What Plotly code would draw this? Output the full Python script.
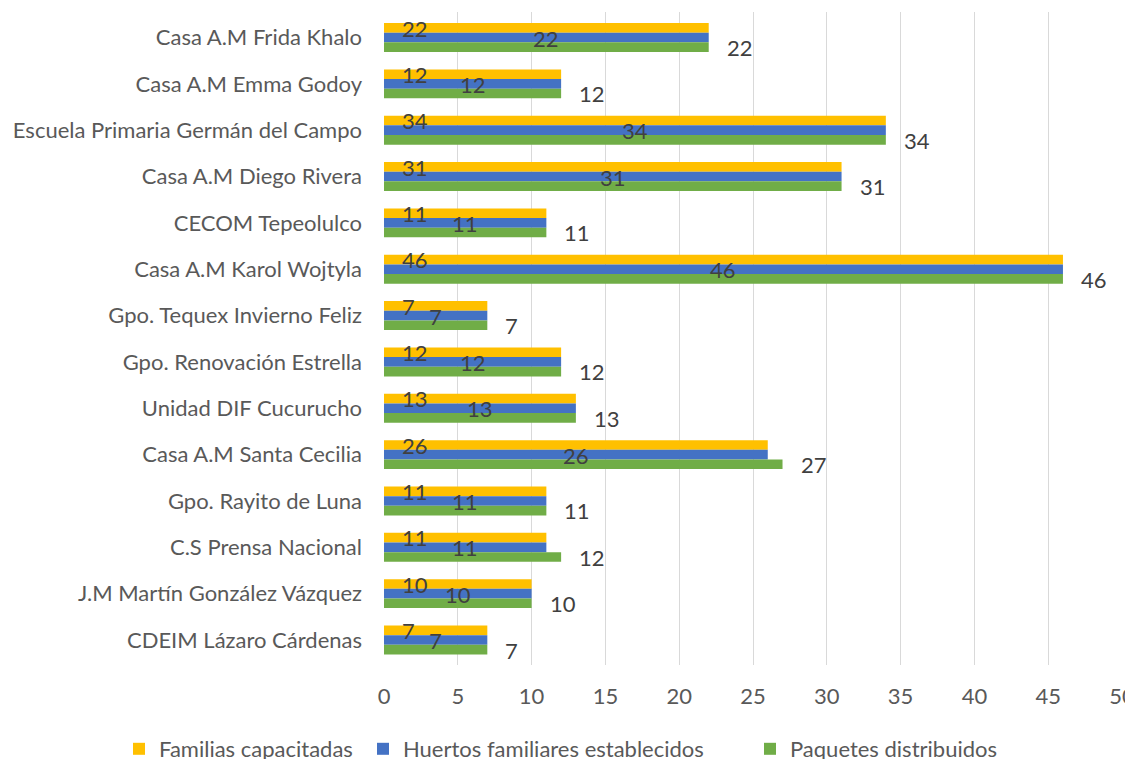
import plotly.graph_objects as go

categorias = [
    "Casa A.M Frida Khalo",
    "Casa A.M Emma Godoy",
    "Escuela Primaria Germán del Campo",
    "Casa A.M Diego Rivera",
    "CECOM Tepeolulco",
    "Casa A.M Karol Wojtyla",
    "Gpo. Tequex Invierno Feliz",
    "Gpo. Renovación Estrella",
    "Unidad DIF Cucurucho",
    "Casa A.M Santa Cecilia",
    "Gpo. Rayito de Luna",
    "C.S Prensa Nacional",
    "J.M Martín González Vázquez",
    "CDEIM Lázaro Cárdenas",
]

familias = [22, 12, 34, 31, 11, 46, 7, 12, 13, 26, 11, 11, 10, 7]
huertos = [22, 12, 34, 31, 11, 46, 7, 12, 13, 26, 11, 11, 10, 7]
paquetes = [22, 12, 34, 31, 11, 46, 7, 12, 13, 27, 11, 12, 10, 7]

series = [
    ("Familias capacitadas", familias, "#FFC000"),
    ("Huertos familiares establecidos", huertos, "#4472C4"),
    ("Paquetes distribuidos", paquetes, "#70AD47"),
]

FONT = "Lato"
SIZE = 22
fig = go.Figure()

# one legend per series so each entry can sit where Excel put it
legend_ids = ["legend", "legend2", "legend3"]
legend_x = [111, 355, 742]  # left edge of each entry, px in the figure

for (nombre, valores, color), lid in zip(series, legend_ids):
    fig.add_trace(go.Bar(
        y=categorias, x=valores, name=nombre, orientation="h",
        marker=dict(color=color, line=dict(width=0)),
        legend=lid,
    ))

# data labels, placed like the Excel original
lbl_font = dict(family=FONT, size=SIZE, color="#404040")
annotations = []
for cat, v in zip(categorias, familias):
    annotations.append(dict(x=0, y=cat, text=str(v), showarrow=False,
                            xanchor="left", xshift=16, yshift=9.5, font=lbl_font))
for cat, v in zip(categorias, huertos):
    annotations.append(dict(x=v / 2, y=cat, text=str(v), showarrow=False,
                            xanchor="center", yshift=-0.5, font=lbl_font))
for cat, v in zip(categorias, paquetes):
    annotations.append(dict(x=v, y=cat, text=str(v), showarrow=False,
                            xanchor="left", xshift=16, yshift=-10, font=lbl_font))

W, H = 1125, 751  # the page body has an 8px margin
legends = {}
for lid, lx in zip(legend_ids, legend_x):
    legends[lid] = dict(orientation="h", xref="container", yref="container",
                        x=lx / W, xanchor="left", y=10 / H, yanchor="middle",
                        bgcolor="rgba(0,0,0,0)",
                        font=dict(family=FONT, size=SIZE, color="#595959"))

fig.update_layout(
    width=W, height=H,
    margin=dict(l=376, r=11, t=4, b=94, autoexpand=False),
    paper_bgcolor="white", plot_bgcolor="white",
    barmode="group", bargap=0.376, bargroupgap=0,
    font=dict(family=FONT, size=SIZE, color="#595959"),
    annotations=annotations,
    showlegend=True,
    **legends,
)

fig.update_xaxes(range=[0, 50], dtick=5, showgrid=True, gridcolor="#D9D9D9",
                 gridwidth=1.3, zeroline=False, showline=False, ticks="",
                 ticklabelstandoff=16, ticklabeloverflow="allow",
                 tickfont=dict(family=FONT, size=SIZE, color="#595959"))
fig.update_yaxes(autorange="reversed", showgrid=False, showline=False,
                 ticks="", ticklabelstandoff=21,
                 tickfont=dict(family=FONT, size=SIZE, color="#595959"))

fig.write_html("out.html")
